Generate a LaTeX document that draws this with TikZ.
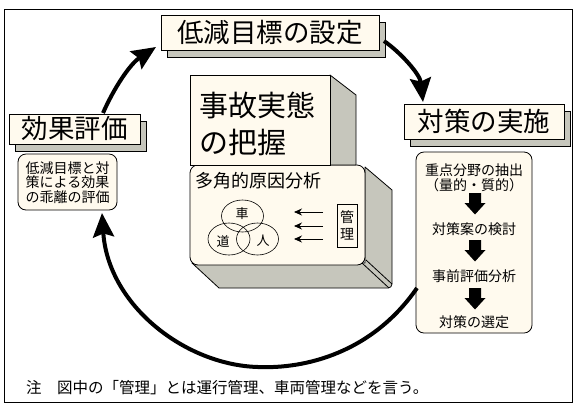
\documentclass[tikz,border=0pt]{standalone}
\usepackage{fontspec}
\setmainfont{Noto Sans CJK JP}
\usetikzlibrary{arrows.meta,shadows}
\definecolor{cream}{RGB}{255,250,238}
\definecolor{sgray}{RGB}{198,198,188}
\begin{document}
\begin{tikzpicture}[x=1pt,y=-1pt,
  lbl/.style={draw=black,line width=0.8pt,fill=cream,inner sep=0pt,
    font=\fontsize{26.5}{30}\selectfont,
    drop shadow={shadow xshift=6pt,shadow yshift=-7pt,fill=sgray,draw=black,line width=0.8pt,opacity=1}},
  rbox/.style={draw=black,line width=0.8pt,fill=cream,rounded corners=8pt,inner sep=0pt},
  small/.style={font=\fontsize{14}{14.5}\selectfont,inner sep=0pt},
  bigarrow/.style={line width=4pt,-{Stealth[length=24pt,width=21pt,inset=3.5pt]}},
  thinarrow/.style={line width=0.8pt,-{Stealth[length=8pt,width=7pt]}},
  face/.style={draw=black,line width=0.8pt,fill=sgray,line join=round},
  blockdown/.pic={\fill (-6,0) -- (6,0) -- (6,10) -- (10.5,10) -- (0,21.5) -- (-10.5,10) -- (-6,10) -- cycle;}
]
\useasboundingbox (0,0) rectangle (577,408);
\fill[white] (0,0) rectangle (577,408);
\draw[line width=1pt] (4,9) rectangle (572,402);

% label boxes
\node[lbl,minimum width=218pt,minimum height=35pt] (goal) at (270,32.5) {低減目標の設定};
\node[lbl,minimum width=131pt,minimum height=30pt] (eval) at (74.5,129) {効果評価};
\node[lbl,minimum width=160pt,minimum height=35pt] (impl) at (484,121.5) {対策の実施};

% small rounded box
\node[rbox,minimum width=99pt,minimum height=56pt] (evalbox) at (67.5,182) {};
\node[small,align=center] (evaltext) at (67.5,182.5) {低減目標と対\\策による効果\\の乖離の評価};

% right rounded box
\node[rbox,minimum width=116pt,minimum height=181pt] (implbox) at (474,242.5) {};
\node[small] (r1) at (474,170) {重点分野の抽出};
\node[small] (r2) at (474,185) {（量的・質的）};
\node[small] (r3) at (474,229) {対策案の検討};
\node[small] (r4) at (474,276) {事前評価分析};
\node[small] (r5) at (474,322) {対策の選定};
\pic at (475,193) {blockdown};
\pic at (475,240) {blockdown};
\pic at (475,288) {blockdown};

% 3D box: lower
\draw[face] (365,167) -- (392,190) [rounded corners=4pt] -- (392,288) [sharp corners] -- (219,288) -- (192,263) -- (365,263) -- cycle;
\draw[line width=0.8pt,fill=cream,rounded corners=8pt] (190,165) rectangle (365,265);
\draw[line width=0.8pt] (362,263) -- (389,288);
\draw[line width=0.8pt] (366,260) -- (392,284);
% 3D box: upper
\draw[face] (330,75) -- (356,95) -- (356,165) -- (330,165) -- cycle;
\draw[line width=0.8pt,fill=cream] (190,75) rectangle (330,165);
\node[font=\fontsize{29}{33}\selectfont,anchor=west,inner sep=0pt] (jiko1) at (199,105) {事故実態};
\node[font=\fontsize{29}{33}\selectfont,anchor=west,inner sep=0pt] (jiko2) at (199,142) {の把握};
\node[font=\fontsize{18}{20}\selectfont,anchor=west,inner sep=0pt] (takaku) at (195,181) {多角的原因分析};

% circles
\draw[line width=0.6pt] (242.5,216) ellipse [x radius=21, y radius=16];
\draw[line width=0.6pt] (229,239) ellipse [x radius=21, y radius=16];
\draw[line width=0.6pt] (257.5,239) ellipse [x radius=21, y radius=16];
\node[font=\fontsize{13}{14}\selectfont,inner sep=0pt] (kuruma) at (242,214) {車};
\node[font=\fontsize{13}{14}\selectfont,inner sep=0pt] (michi) at (223,241) {道};
\node[font=\fontsize{13}{14}\selectfont,inner sep=0pt] (hito) at (263,241) {人};

% management box
\node[draw,line width=0.7pt,fill=cream,minimum width=20pt,minimum height=43pt,inner sep=0pt,
      font=\fontsize{14}{17.5}\selectfont,align=center] (kanri) at (347,225.5) {管\\理};
\coordinate (k1) at (323,212);
\coordinate (k2) at (323,226);
\coordinate (k3) at (323,239);
\coordinate (t1) at (294,212);
\coordinate (t2) at (294,226);
\coordinate (t3) at (294,239);
\draw[thinarrow] (k1) -- (t1);
\draw[thinarrow] (k2) -- (t2);
\draw[thinarrow] (k3) -- (t3);

% big cycle arrows
\coordinate (a1s) at (103,113);
\coordinate (a1e) at (156,47);
\draw[bigarrow] (a1s) .. controls (114,88) and (130,64) .. (a1e);
\coordinate (a2s) at (384,41);
\coordinate (a2e) at (423,102);
\draw[bigarrow] (a2s) .. controls (400,52) and (420,74) .. (a2e);
\coordinate (a3s) at (417,288);
\coordinate (a3m) at (258,367);
\coordinate (a3e) at (102,213);
\draw[bigarrow] (a3s) .. controls (372,353) and (305,369) .. (a3m) .. controls (185,365) and (108,305) .. (a3e);

% footnote
\node[font=\fontsize{15.5}{17}\selectfont,anchor=west,inner sep=0pt] (note) at (26,388) {注　図中の「管理」とは運行管理、車両管理などを言う。};
\end{tikzpicture}
\end{document}
